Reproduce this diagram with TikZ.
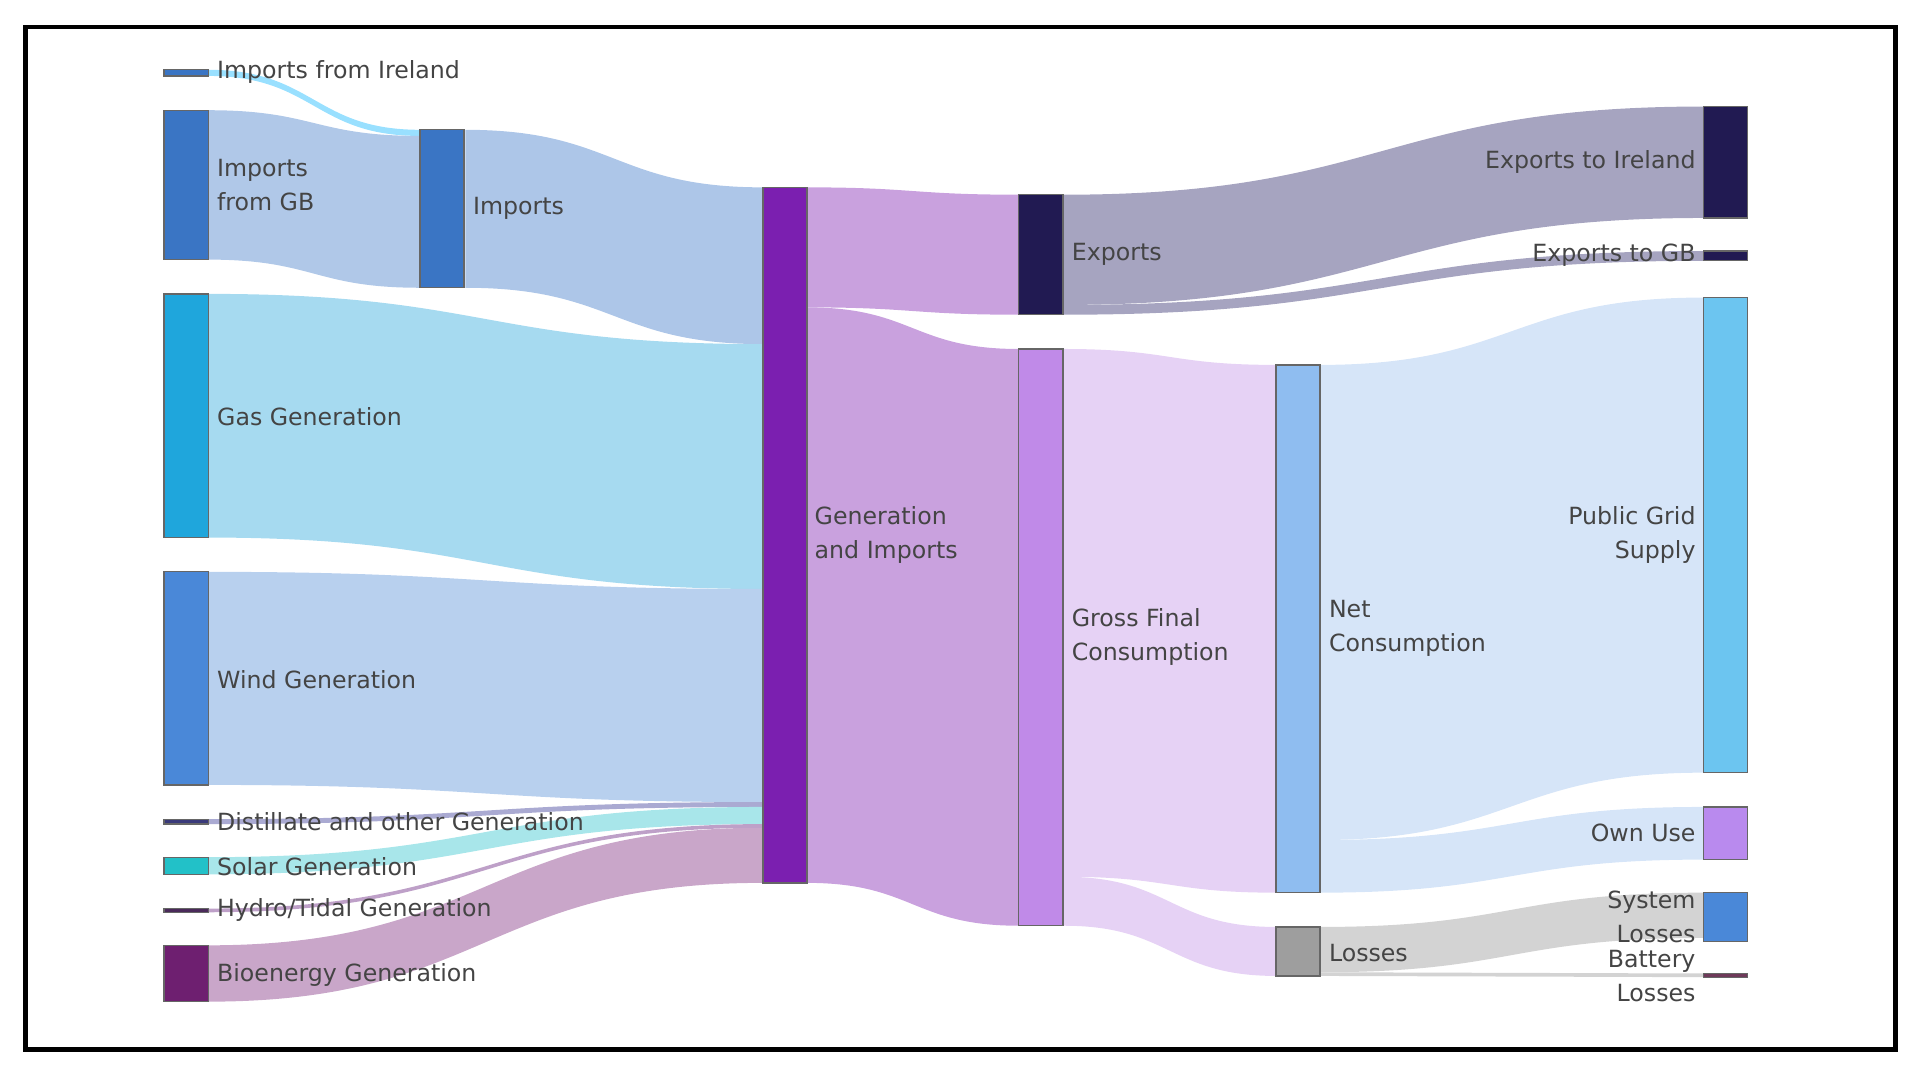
\documentclass[tikz,border=0pt]{standalone}
\usepackage{fontspec}
\setmainfont{DejaVu Sans}
\begin{document}
\newcommand\flow[7]{%
 \pgfmathsetmacro\xm{(#1+#4)/2}%
 \fill[#7] (#1,#2) .. controls (\xm,#2) and (\xm,#5) .. (#4,#5) -- (#4,#6) .. controls (\xm,#6) and (\xm,#3) .. (#1,#3) -- cycle;}
\newcommand\sbar[5]{\node[bar, fill=#5, minimum width=36*0.02cm, minimum height={(#4-#3)*0.02cm}] (#1) at (#2+18,{(#3+#4)/2}) {};}
\definecolor{tx}{HTML}{444444}
\begin{tikzpicture}[x=0.02cm,y=-0.02cm,
  bar/.style={draw=black!60, line width=0.6pt, inner sep=0pt, outer sep=0pt},
  lab/.style={text=tx, font=\fontsize{11}{16}\selectfont, inner sep=0pt, anchor=west, align=left},
  labr/.style={lab, anchor=east, align=right}]
\useasboundingbox (0,0) rectangle (1568,880);
\draw[line width=2.2pt] (21,22) rectangle (1548,857);
% flows
\flow{170}{57}{62}{343}{106}{111}{fill=blue!30!cyan!40!white}
\flow{170}{90}{212}{343}{111}{235}{fill={rgb,255:red,176;green,200;blue,232}}
\flow{380}{106}{235}{623}{153}{281}{fill={rgb,255:red,173;green,198;blue,232}}
\flow{170}{240}{439}{623}{281}{481}{fill={rgb,255:red,166;green,218;blue,240}}
\flow{170}{467}{641}{623}{481}{655}{fill={rgb,255:red,184;green,208;blue,238}}
\flow{170}{669}{673}{623}{655}{659}{fill={rgb,255:red,170;green,170;blue,210}}
\flow{170}{700}{714}{623}{659}{673}{fill={rgb,255:red,168;green,230;blue,234}}
\flow{170}{742}{745}{623}{673}{676}{fill={rgb,255:red,190;green,160;blue,200}}
\flow{170}{772}{818}{623}{676}{721}{fill={rgb,255:red,201;green,166;blue,201}}
\flow{659}{153}{251}{832}{159}{257}{fill={rgb,255:red,201;green,161;blue,222}}
\flow{659}{251}{721}{832}{285}{756}{fill={rgb,255:red,201;green,161;blue,222}}
\flow{869}{159}{249}{1391}{87}{178}{fill={rgb,255:red,166;green,164;blue,192}}
\flow{869}{249}{257}{1391}{205}{213}{fill={rgb,255:red,166;green,164;blue,192}}
\flow{869}{285}{716}{1042}{298}{729}{fill={rgb,255:red,230;green,210;blue,245}}
\flow{869}{716}{756}{1042}{757}{797}{fill={rgb,255:red,230;green,210;blue,245}}
\flow{1078}{298}{686}{1391}{243}{631}{fill={rgb,255:red,214;green,229;blue,248}}
\flow{1078}{686}{729}{1391}{659}{702}{fill={rgb,255:red,214;green,229;blue,248}}
\flow{1078}{757}{794}{1391}{729}{766}{fill={rgb,255:red,211;green,211;blue,211}}
\flow{1078}{794}{797}{1391}{795}{798}{fill={rgb,255:red,211;green,211;blue,211}}
% nodes
\sbar{ire}{134}{57}{62}{{rgb,255:red,58;green,117;blue,196}}
\sbar{gb}{134}{90}{212}{{rgb,255:red,58;green,117;blue,196}}
\sbar{gas}{134}{240}{439}{{rgb,255:red,31;green,166;blue,220}}
\sbar{wind}{134}{467}{641}{{rgb,255:red,74;green,136;blue,216}}
\sbar{dist}{134}{669}{673}{{rgb,255:red,58;green,58;blue,122}}
\sbar{solar}{134}{700}{714}{{rgb,255:red,34;green,193;blue,200}}
\sbar{hydro}{134}{742}{745}{{rgb,255:red,74;green,42;blue,90}}
\sbar{bio}{134}{772}{818}{{rgb,255:red,110;green,31;blue,112}}
\sbar{imp}{343}{106}{235}{{rgb,255:red,58;green,117;blue,196}}
\sbar{gen}{623}{153}{721}{{rgb,255:red,123;green,31;blue,176}}
\sbar{exp}{832}{159}{257}{{rgb,255:red,33;green,26;blue,82}}
\sbar{gfc}{832}{285}{756}{{rgb,255:red,192;green,138;blue,232}}
\sbar{net}{1042}{298}{729}{{rgb,255:red,143;green,189;blue,240}}
\sbar{loss}{1042}{757}{797}{{rgb,255:red,158;green,158;blue,158}}
\sbar{expire}{1391}{87}{178}{{rgb,255:red,33;green,26;blue,82}}
\sbar{expgb}{1391}{205}{213}{{rgb,255:red,33;green,26;blue,82}}
\sbar{pub}{1391}{243}{631}{{rgb,255:red,108;green,197;blue,240}}
\sbar{own}{1391}{659}{702}{{rgb,255:red,185;green,138;blue,238}}
\sbar{sys}{1391}{729}{769}{{rgb,255:red,74;green,136;blue,216}}
\sbar{bat}{1391}{795}{798}{{rgb,255:red,110;green,58;blue,90}}
% labels
\node[lab] (l1) at (177,59) {Imports from Ireland};
\node[lab] (l2) at (177,151) {Imports\\from GB};
\node[lab] (l3) at (386,170) {Imports};
\node[lab] (l4) at (177,340) {Gas Generation};
\node[lab] (l5) at (177,555) {Wind Generation};
\node[lab] (l6) at (177,671) {Distillate and other Generation};
\node[lab] (l7) at (177,708) {Solar Generation};
\node[lab] (l8) at (177,743) {Hydro/Tidal Generation};
\node[lab] (l9) at (177,796) {Bioenergy Generation};
\node[lab] (l10) at (665,437) {Generation\\and Imports};
\node[lab] (l11) at (875,208) {Exports};
\node[lab] (l12) at (875,520) {Gross Final\\Consumption};
\node[lab] (l13) at (1085,513) {Net\\Consumption};
\node[lab] (l14) at (1085,778) {Losses};
\node[labr] (r1) at (1385,132) {Exports to Ireland};
\node[labr] (r2) at (1385,208) {Exports to GB};
\node[labr] (r3) at (1385,437) {Public Grid\\Supply};
\node[labr] (r4) at (1385,680) {Own Use};
\node[labr] (r5) at (1385,749) {System\\Losses};
\node[labr] (r6) at (1385,797) {Battery\\Losses};
\end{tikzpicture}
\end{document}
